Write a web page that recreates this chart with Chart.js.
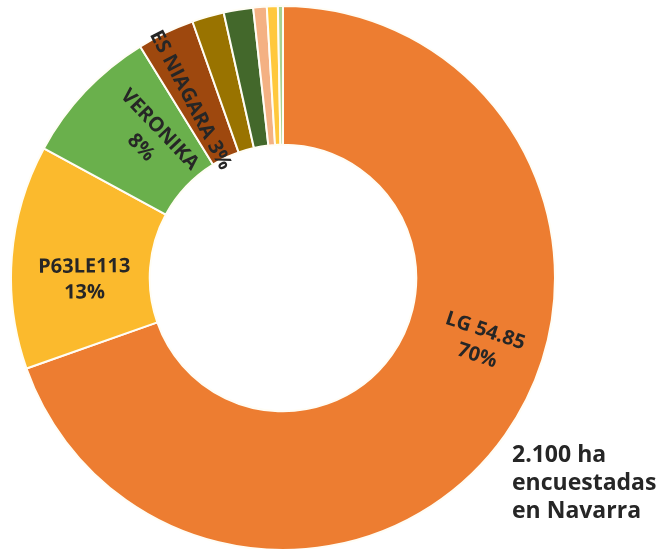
<!DOCTYPE html>
<html>
<head>
<meta charset="utf-8">
<script src="https://cdn.jsdelivr.net/npm/chart.js@4/dist/chart.umd.min.js"></script>
<style>
  html, body { margin:0; padding:0; background:#fff; width:659px; height:549px; overflow:hidden; }
  #wrap { position:absolute; left:10px; top:5px; width:546px; height:546px; }
  #note { position:absolute; left:512px; top:439px; font-family:"Open Sans", sans-serif; font-weight:bold;
          font-size:23px; line-height:28px; color:#262626; }
</style>
</head>
<body>
<div id="wrap"><canvas id="pie"></canvas></div>
<div id="note">2.100 ha<br>encuestadas<br>en Navarra</div>
<script>
// variedades, % de superficie
let varieties = ["LG 54.85", "P63LE113", "VERONIKA", "ES NIAGARA", "Otra 1", "Otra 2", "Otra 3", "Otra 4", "Otra 5"];
let shares = [69.6, 13.3, 8.3, 3.4, 1.9, 1.75, 0.8, 0.65, 0.3];
let sliceLabels = [["LG 54.85", "70%"], ["P63LE113", "13%"], ["VERONIKA", "8%"], ["ES NIAGARA 3%"], null, null, null, null, null];
let colors = ["#ED7D31", "#FBBA2D", "#6AB04C", "#9E480E", "#997300", "#43682B", "#F4B183", "#FFC83D", "#A9D18E"];

// where excel put the labels: angle shift (deg) and radius factor
let labelShift = [-17, -5, 3, -2, 0, 0, 0, 0, 0];
let labelRadius = [1.03, 0.98, 0.95, 0.99, 1, 1, 1, 1, 1];

const sliceLabelPlugin = {
  id: "sliceLabels",
  afterDatasetsDraw(chart) {
    const ctx = chart.ctx;
    const meta = chart.getDatasetMeta(0);
    meta.data.forEach((arc, i) => {
      if (!sliceLabels[i]) return;
      const p = arc.getProps(["x", "y", "startAngle", "endAngle", "innerRadius", "outerRadius"], true);
      let a = (p.startAngle + p.endAngle) / 2 + labelShift[i] * Math.PI / 180;
      let r = (p.innerRadius + p.outerRadius) / 2 * labelRadius[i];
      let x = p.x + Math.cos(a) * r;
      let y = p.y + Math.sin(a) * r;
      let rot = a;
      while (rot > Math.PI / 2) rot -= Math.PI;
      while (rot <= -Math.PI / 2) rot += Math.PI;
      ctx.save();
      ctx.translate(x, y);
      ctx.rotate(rot);
      ctx.font = "bold 20px 'Open Sans', sans-serif";
      ctx.fillStyle = "#262626";
      ctx.textAlign = "center";
      ctx.textBaseline = "middle";
      let lines = sliceLabels[i];
      let lh = 26;
      lines.forEach((t, k) => {
        ctx.fillText(t, 0, (k - (lines.length - 1) / 2) * lh);
      });
      ctx.restore();
    });
  }
};

new Chart(document.getElementById("pie"), {
  type: "doughnut",
  data: {
    labels: varieties,
    datasets: [{
      data: shares,
      backgroundColor: colors,
      borderColor: "#fffdf5",
      borderWidth: 2
    }]
  },
  options: {
    responsive: true,
    maintainAspectRatio: false,
    animation: false,
    cutout: "49%",
    layout: { padding: 0 },
    plugins: {
      legend: { display: false },
      tooltip: { enabled: false }
    }
  },
  plugins: [sliceLabelPlugin]
});
</script>
</body>
</html>
